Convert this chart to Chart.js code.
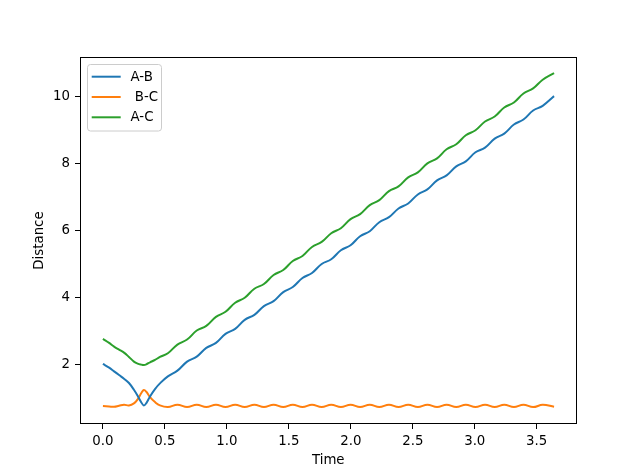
<!DOCTYPE html>
<html>
<head>
<meta charset="utf-8">
<script src="https://cdn.jsdelivr.net/npm/chart.js@4.4.1/dist/chart.umd.min.js"></script>
<style>
  html, body { margin: 0; padding: 0; background: #fff; }
</style>
</head>
<body>
<canvas id="myChart" width="640" height="476"></canvas>
<script>
// time samples (s) and distances
const times = [0, 0.05, 0.09, 0.13, 0.17, 0.21, 0.25, 0.28, 0.31, 0.33, 0.35, 0.38, 0.42, 0.46,
  0.524, 0.601, 0.679, 0.757, 0.834, 0.912, 0.989, 1.067, 1.144, 1.222, 1.299, 1.377, 1.455, 1.532,
  1.610, 1.687, 1.765, 1.842, 1.920, 1.998, 2.075, 2.153, 2.230, 2.308, 2.385, 2.463, 2.541, 2.618,
  2.696, 2.773, 2.851, 2.928, 3.006, 3.083, 3.161, 3.238, 3.316, 3.393, 3.471, 3.548, 3.64];

const abDistance = [2.01, 1.90, 1.79, 1.68, 1.57, 1.44, 1.24, 1.06, 0.86, 0.77, 0.84, 1.04, 1.26, 1.43,
  1.64, 1.81, 2.08, 2.23, 2.49, 2.64, 2.91, 3.06, 3.33, 3.48, 3.74, 3.89, 4.16, 4.31,
  4.58, 4.73, 5.00, 5.14, 5.41, 5.56, 5.83, 5.98, 6.25, 6.40, 6.66, 6.81, 7.08, 7.23,
  7.50, 7.65, 7.92, 8.07, 8.34, 8.48, 8.75, 8.90, 9.17, 9.32, 9.59, 9.73, 10.02];

const bcDistance = [0.75, 0.74, 0.73, 0.76, 0.79, 0.77, 0.83, 0.95, 1.14, 1.23, 1.18, 1.02, 0.87, 0.77,
  0.72, 0.79, 0.72, 0.79, 0.72, 0.79, 0.72, 0.79, 0.72, 0.79, 0.72, 0.79, 0.72, 0.79,
  0.72, 0.79, 0.72, 0.79, 0.72, 0.79, 0.72, 0.79, 0.72, 0.79, 0.72, 0.79, 0.72, 0.79,
  0.72, 0.79, 0.72, 0.79, 0.72, 0.79, 0.72, 0.79, 0.72, 0.79, 0.72, 0.79, 0.73];

const acDistance = [2.76, 2.64, 2.53, 2.44, 2.35, 2.22, 2.08, 2.02, 1.99, 1.98, 2.00, 2.06, 2.13, 2.22,
  2.33, 2.59, 2.74, 3.01, 3.15, 3.42, 3.57, 3.84, 3.99, 4.26, 4.40, 4.67, 4.82, 5.09,
  5.24, 5.51, 5.66, 5.92, 6.07, 6.34, 6.49, 6.76, 6.91, 7.18, 7.32, 7.59, 7.74, 8.01,
  8.16, 8.43, 8.58, 8.85, 9.00, 9.26, 9.41, 9.68, 9.83, 10.10, 10.25, 10.51, 10.71];

const xTickValues = [0, 0.5, 1, 1.5, 2, 2.5, 3, 3.5];
const yTickValues = [2, 4, 6, 8, 10];

const seriesNames = ['A-B', ' B-C', 'A-C'];
const seriesColors = ['#1f77b4', '#ff7f0e', '#2ca02c'];

const toPoints = ys => times.map((t, i) => ({ x: t, y: ys[i] }));

Chart.defaults.font.family = '"DejaVu Sans", sans-serif';
Chart.defaults.font.size = 13.33;
Chart.defaults.color = '#000';

// matplotlib style box round the axes + legend with a frame
const frameAndLegend = {
  id: 'frameAndLegend',
  afterDraw(chart) {
    const { ctx, chartArea: a } = chart;
    ctx.save();
    ctx.strokeStyle = '#000';
    ctx.lineWidth = 1;
    ctx.strokeRect(Math.round(a.left) + 0.5, Math.round(a.top) + 0.5,
      Math.round(a.right - a.left) - 1, Math.round(a.bottom - a.top) - 1);

    const lx = a.left + 7.5, ly = a.top + 7.5;
    ctx.beginPath();
    ctx.roundRect(lx, ly, 74, 66.5, 3);
    ctx.fillStyle = 'rgba(255,255,255,0.8)';
    ctx.fill();
    ctx.strokeStyle = '#cccccc';
    ctx.stroke();

    ctx.font = '13.33px "DejaVu Sans"';
    ctx.textBaseline = 'middle';
    chart.data.datasets.forEach((ds, i) => {
      const rowY = ly + 12.2 + i * 20.3;
      ctx.beginPath();
      ctx.moveTo(lx + 4.2, rowY);
      ctx.lineTo(lx + 33.2, rowY);
      ctx.strokeStyle = ds.borderColor;
      ctx.lineWidth = 2;
      ctx.stroke();
      ctx.fillStyle = '#000';
      ctx.fillText(ds.label, lx + 43, rowY + 0.5);
    });
    ctx.restore();
  }
};

const ctx = document.getElementById('myChart');

new Chart(ctx, {
  type: 'line',
  data: {
    datasets: [abDistance, bcDistance, acDistance].map((ys, i) => ({
      label: seriesNames[i],
      data: toPoints(ys),
      borderColor: seriesColors[i],
      backgroundColor: seriesColors[i],
      borderWidth: 2,
      pointRadius: 0,
      tension: 0.4,
      fill: false
    }))
  },
  options: {
    responsive: false,
    animation: false,
    devicePixelRatio: 1,
    layout: { padding: { left: 0, right: 63.5, top: 57, bottom: 0 } },
    scales: {
      x: {
        type: 'linear',
        min: -0.185,
        max: 3.821,
        afterFit: s => { s.height = 52; },
        afterBuildTicks: s => { s.ticks = xTickValues.map(v => ({ value: v })); },
        border: { display: false },
        grid: { drawOnChartArea: false, drawTicks: true, tickLength: 5, tickColor: '#000', color: '#000' },
        ticks: { padding: 5, maxRotation: 0, callback: v => v.toFixed(1) },
        title: { display: true, text: 'Time', padding: { top: 0, bottom: 7 } }
      },
      y: {
        type: 'linear',
        min: 0.215,
        max: 11.19,
        afterFit: s => { s.width = 80; },
        afterBuildTicks: s => { s.ticks = yTickValues.map(v => ({ value: v })); },
        border: { display: false },
        grid: { drawOnChartArea: false, drawTicks: true, tickLength: 5, tickColor: '#000', color: '#000' },
        ticks: { padding: 5, callback: v => String(v) },
        title: { display: true, text: 'Distance', padding: { top: 32, bottom: 0 } }
      }
    },
    plugins: {
      legend: { display: false },
      tooltip: { enabled: false }
    }
  },
  plugins: [frameAndLegend]
});
</script>
</body>
</html>
